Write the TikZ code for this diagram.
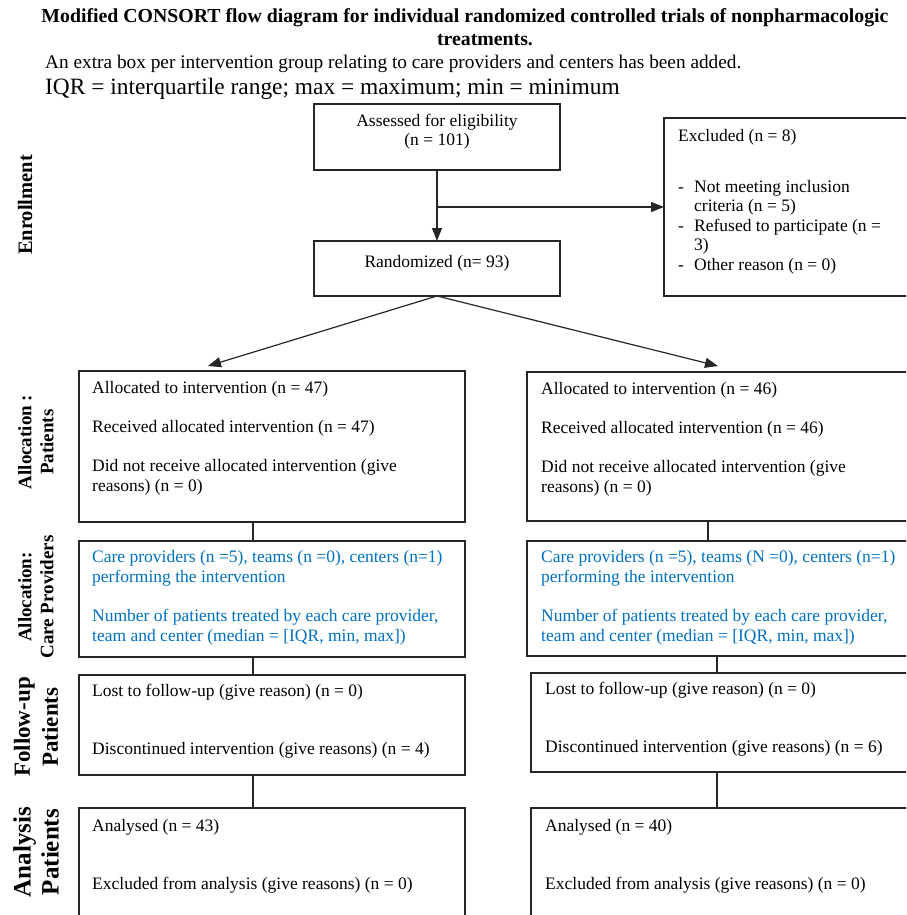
\documentclass[tikz,border=0pt]{standalone}
\usepackage{fontspec}
\setmainfont{Liberation Serif}
\usetikzlibrary{arrows.meta,calc}
\definecolor{provblue}{RGB}{0,112,192}
\begin{document}
\begin{tikzpicture}[x=1pt,y=-1pt,
    box/.style={draw=black!85,line width=1.2pt,inner sep=0pt,outer sep=0pt,anchor=north west},
    txt/.style={anchor=base west,inner sep=0pt,font=\fontsize{17.5}{19.5}\selectfont},
    ctxt/.style={txt,anchor=base},
    btxt/.style={txt,text=provblue},
    side/.style={rotate=90,align=center,inner sep=0pt,font=\fontsize{19}{22}\selectfont\bfseries},
    bigside/.style={side,font=\fontsize{23}{28}\selectfont\bfseries},
    arr/.style={draw=black!85,line width=1.2pt,-{Triangle[length=13pt,width=10pt]}},
    stem/.style={draw=black!85,line width=1.2pt}]
    \useasboundingbox (0,0) rectangle (906,915);
    \clip (0,0) rectangle (906,915);
    \node[ctxt,font=\fontsize{19.8}{23}\selectfont\bfseries] (title1) at (465,23) {Modified CONSORT flow diagram for individual randomized controlled trials of nonpharmacologic};
    \node[ctxt,font=\fontsize{19.8}{23}\selectfont\bfseries] (title2) at (485,46) {treatments.};
    \node[txt,font=\fontsize{19.3}{22}\selectfont] (note1) at (45,69) {An extra box per intervention group relating to care providers and centers has been added.};
    \node[txt,font=\fontsize{23.4}{26}\selectfont] (note2) at (45,95) {IQR = interquartile range; max = maximum; min = minimum};

    \node[side,font=\fontsize{20.5}{22}\selectfont\bfseries] (enroll) at (25,205) {Enrollment};
    \node[side] (allocpat) at (36,442) {Allocation :\\Patients};
    \node[side] (alloccare) at (36,597) {Allocation:\\Care Providers};
    \node[bigside] (follow) at (36,727) {Follow-up\\Patients};
    \node[bigside,font=\fontsize{25}{28}\selectfont\bfseries] (analysis) at (36,852) {Analysis\\Patients};

    \node[box,minimum width=246pt,minimum height=66pt] (assess) at (314,104) {};
    \node[box,minimum width=260pt,minimum height=178pt] (excl) at (664,118) {};
    \node[box,minimum width=246pt,minimum height=55pt] (rand) at (314,241) {};
    \node[box,minimum width=386pt,minimum height=151pt] (allocL) at (79,371) {};
    \node[box,minimum width=400pt,minimum height=149pt] (allocR) at (527,372) {};
    \node[box,minimum width=386pt,minimum height=116pt] (careL) at (79,541) {};
    \node[box,minimum width=400pt,minimum height=115pt] (careR) at (527,541) {};
    \node[box,minimum width=386pt,minimum height=100pt] (followL) at (79,675) {};
    \node[box,minimum width=400pt,minimum height=99pt] (followR) at (531,673) {};
    \node[box,minimum width=386pt,minimum height=130pt] (anaL) at (79,808) {};
    \node[box,minimum width=400pt,minimum height=130pt] (anaR) at (531,808) {};

    \node[ctxt] (assess1) at (437,127) {Assessed for eligibility};
    \node[ctxt] (assess2) at (437,146) {(n = 101)};
    \node[txt] (excl1) at (678,141) {Excluded (n = 8)};
    \node[txt] (excl2) at (678,192) {\makebox[16pt][l]{-}Not meeting inclusion};
    \node[txt] (excl3) at (694,211) {criteria (n = 5)};
    \node[txt] (excl4) at (678,231) {\makebox[16pt][l]{-}Refused to participate (n =};
    \node[txt] (excl5) at (694,250) {3)};
    \node[txt] (excl6) at (678,270) {\makebox[16pt][l]{-}Other reason (n = 0)};
    \node[ctxt] (rand1) at (437,267) {Randomized (n= 93)};

    \node[txt] (allocL1) at (92,393) {Allocated to intervention (n = 47)};
    \node[txt] (allocL2) at (92,432) {Received allocated intervention (n = 47)};
    \node[txt] (allocL3) at (92,471) {Did not receive allocated intervention (give};
    \node[txt] (allocL4) at (92,491) {reasons) (n = 0)};
    \node[txt] (allocR1) at (541,394) {Allocated to intervention (n = 46)};
    \node[txt] (allocR2) at (541,433) {Received allocated intervention (n = 46)};
    \node[txt] (allocR3) at (541,472) {Did not receive allocated intervention (give};
    \node[txt] (allocR4) at (541,492) {reasons) (n = 0)};

    \node[btxt] (careL1) at (92,562) {Care providers (n =5), teams (n =0), centers (n=1)};
    \node[btxt] (careL2) at (92,582) {performing the intervention};
    \node[btxt] (careL3) at (92,621) {Number of patients treated by each care provider,};
    \node[btxt] (careL4) at (92,641) {team and center (median = [IQR, min, max])};
    \node[btxt] (careR1) at (541,562) {Care providers (n =5), teams (N =0), centers (n=1)};
    \node[btxt] (careR2) at (541,582) {performing the intervention};
    \node[btxt] (careR3) at (541,621) {Number of patients treated by each care provider,};
    \node[btxt] (careR4) at (541,641) {team and center (median = [IQR, min, max])};

    \node[txt] (followL1) at (92,696) {Lost to follow-up (give reason) (n = 0)};
    \node[txt] (followL2) at (92,754) {Discontinued intervention (give reasons) (n = 4)};
    \node[txt] (followR1) at (545,694) {Lost to follow-up (give reason) (n = 0)};
    \node[txt] (followR2) at (545,752) {Discontinued intervention (give reasons) (n = 6)};
    \node[txt] (anaL1) at (92,831) {Analysed (n = 43)};
    \node[txt] (anaL2) at (92,889) {Excluded from analysis (give reasons) (n = 0)};
    \node[txt] (anaR1) at (545,831) {Analysed (n = 40)};
    \node[txt] (anaR2) at (545,889) {Excluded from analysis (give reasons) (n = 0)};

    \coordinate (tipL) at (208,366);
    \coordinate (tipR) at (718,366);
    \coordinate (stemL) at (253,0);
    \coordinate (stemR) at (708,0);
    \coordinate (stemRR) at (717,0);

    \draw[arr] (assess.south) -- (rand.north);
    \draw[arr] (assess.south |- excl.west) -- (excl.west);
    \draw[arr] (rand.south) -- (tipL);
    \draw[arr] (rand.south) -- (tipR);
    \draw[stem] (allocL.south -| stemL) -- (careL.north -| stemL);
    \draw[stem] (careL.south -| stemL) -- (followL.north -| stemL);
    \draw[stem] (followL.south -| stemL) -- (anaL.north -| stemL);
    \draw[stem] (allocR.south -| stemR) -- (careR.north -| stemR);
    \draw[stem] (careR.south -| stemRR) -- (followR.north -| stemRR);
    \draw[stem] (followR.south -| stemRR) -- (anaR.north -| stemRR);
\end{tikzpicture}
\end{document}
